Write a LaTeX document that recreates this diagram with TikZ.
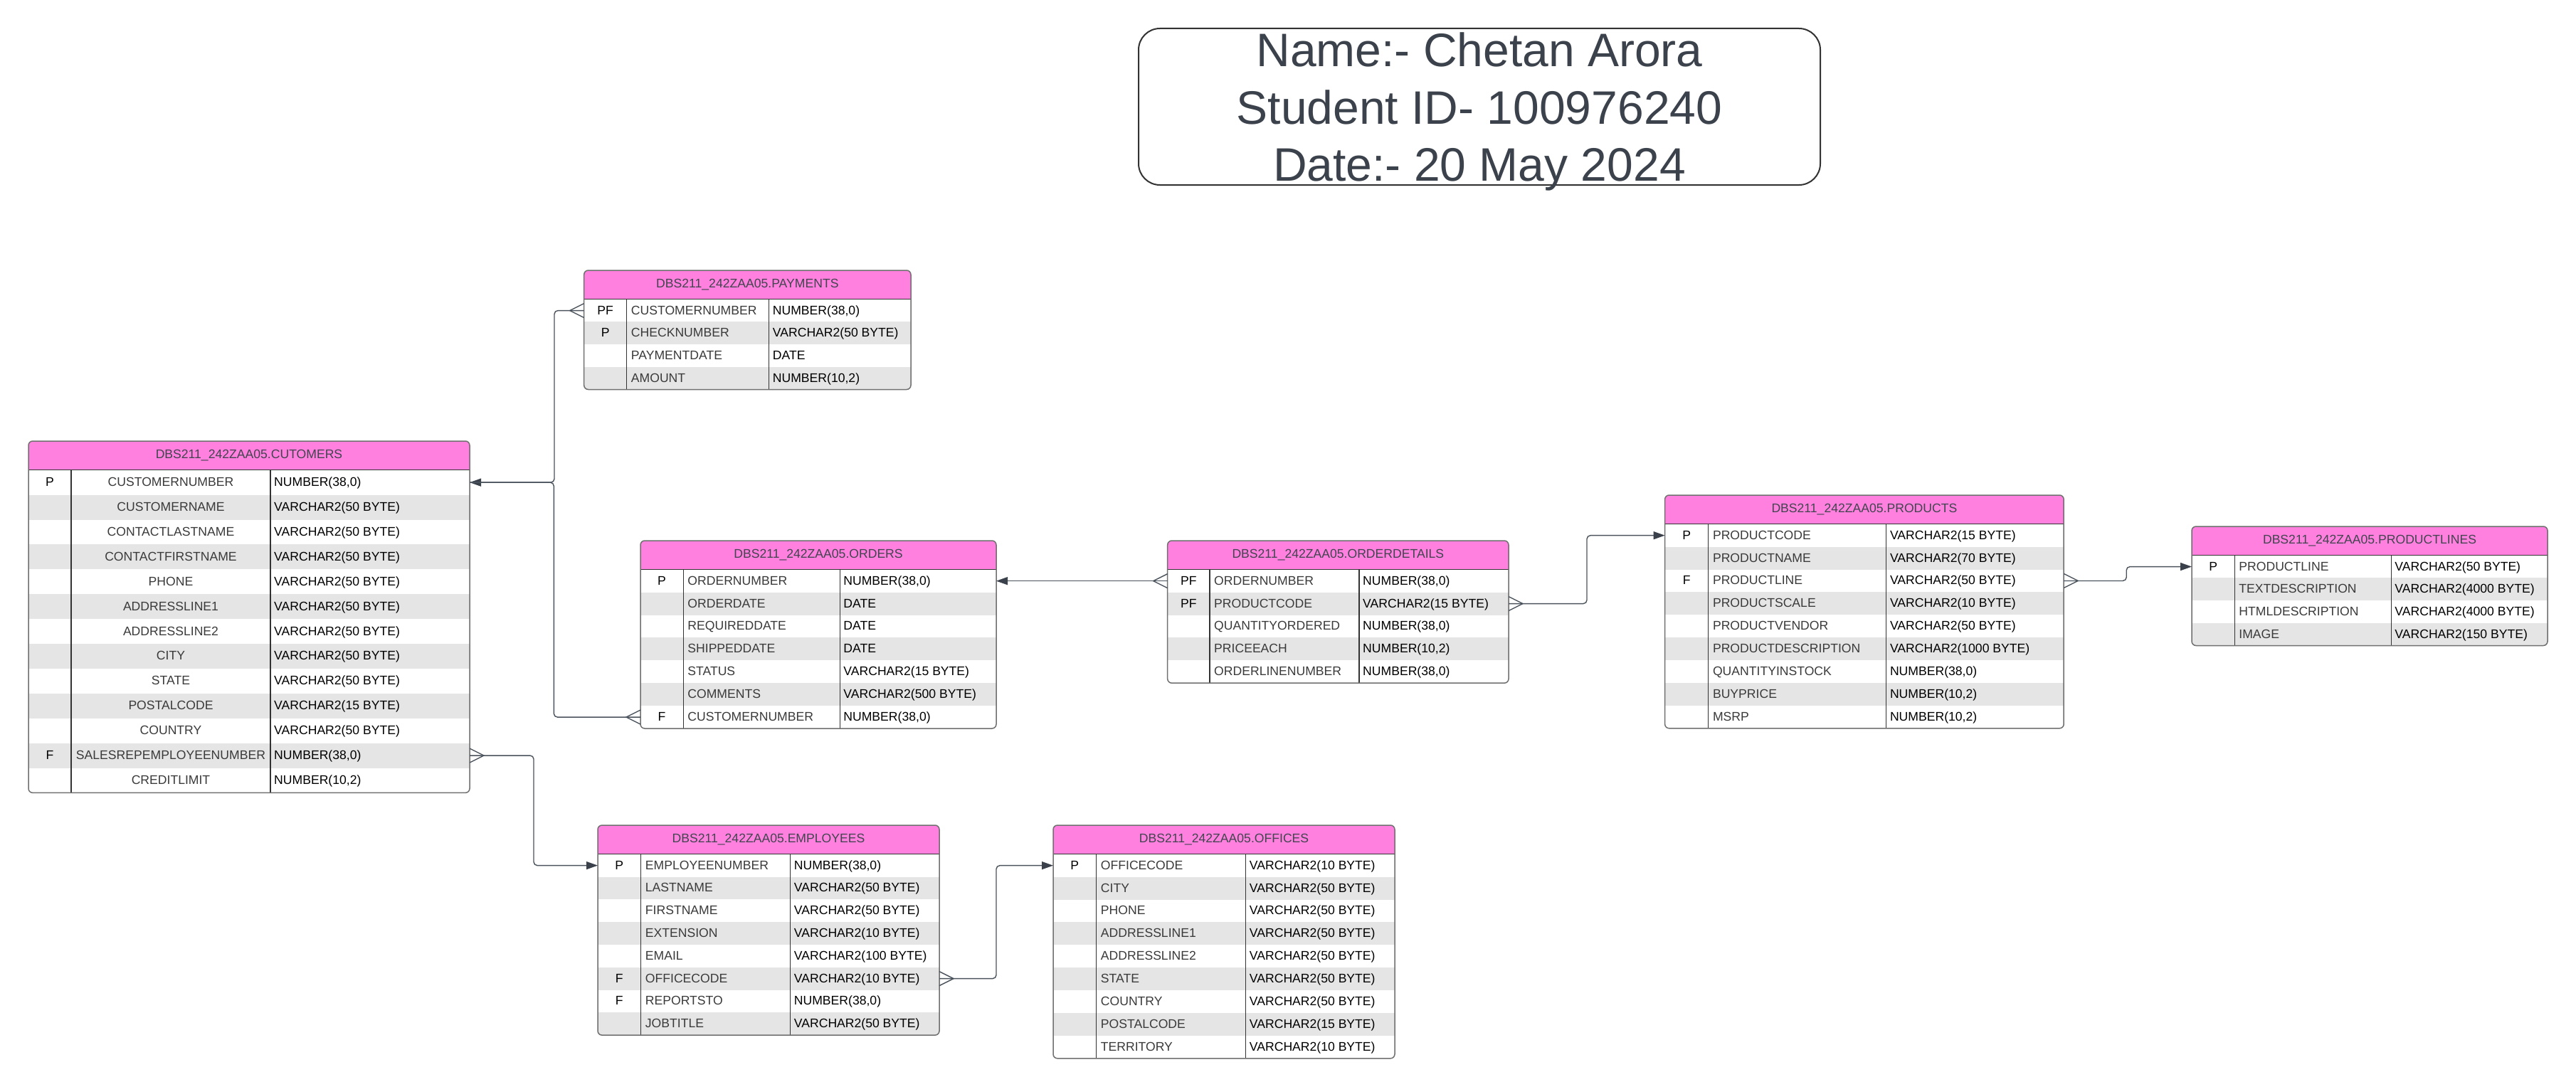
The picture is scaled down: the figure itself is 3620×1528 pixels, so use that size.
\documentclass[tikz,border=0pt]{standalone}
\usepackage{fontspec}
\setmainfont{Liberation Sans}
\usetikzlibrary{arrows.meta,calc}
\definecolor{hdrpink}{HTML}{FF80DF}
\definecolor{rowgray}{HTML}{E5E5E5}
\definecolor{bordergray}{HTML}{707070}
\definecolor{divdark}{HTML}{333333}
\definecolor{linegray}{HTML}{4A525C}
\definecolor{arrowdark}{HTML}{3A414B}
\definecolor{titletext}{HTML}{3B424C}
\definecolor{hdrtext}{HTML}{40454F}
\definecolor{nametext}{HTML}{3A3A3A}
\tikzset{
  erfont/.style={font=\fontsize{17.6}{21}\selectfont},
  hdrtxt/.style={erfont, text=hdrtext, inner sep=0pt},
  keytxt/.style={erfont, text=black, anchor=base, inner sep=0pt},
  nametxt/.style={erfont, text=nametext, inner sep=0pt},
  typetxt/.style={erfont, text=black, anchor=base west, inner sep=0pt},
  rowbox/.style={draw=none, inner sep=0pt, outer sep=0pt},
  conn/.style={draw=linegray, line width=1.4pt},
  tipend/.style={-{Triangle[length=16pt,width=11pt,color=arrowdark]}},
  titlebox/.style={draw=divdark, line width=2pt, rounded corners=30pt, inner sep=0pt},
  titletxt/.style={font=\fontsize{66}{80.5}\selectfont, text=titletext, align=center, inner sep=0pt}
}
\newif\ifercenter
\newcommand{\ertable}[9]{%
  \pgfmathsetmacro{\erxa}{#2}%
  \pgfmathsetmacro{\erxb}{#2+#4}%
  \pgfmathsetmacro{\erxc}{#2+#4+#5}%
  \pgfmathsetmacro{\erxd}{#2+#4+#5+#6}%
  \pgfmathsetmacro{\erya}{#3}%
  \pgfmathsetmacro{\eryh}{#3+40.7}%
  \foreach [count=\ri] \ek/\en/\et in {#9} {\xdef\ernrows{\ri}}%
  \pgfmathsetmacro{\eryd}{\eryh+\ernrows*#7}%
  \pgfmathsetmacro{\erwd}{\erxd-\erxa}%
  \begin{scope}
    \clip[rounded corners=6pt] (\erxa,\erya) rectangle (\erxd,\eryd);
    \fill[hdrpink] (\erxa,\erya) rectangle (\erxd,\eryh);
    \foreach [count=\ri] \ek/\en/\et in {#9} {%
      \ifodd\ri\relax\else
        \fill[rowgray] (\erxa,{\eryh+(\ri-1)*#7}) rectangle (\erxd,{\eryh+\ri*#7});
      \fi}%
  \end{scope}
  \node[hdrtxt] (#1) at ({(\erxa+\erxd)/2},{(\erya+\eryh)/2}) {#8};
  \foreach [count=\ri] \ek/\en/\et in {#9} {%
    \pgfmathsetmacro{\ryc}{\eryh+(\ri-0.5)*#7}%
    \node[rowbox, minimum width=\erwd pt, minimum height=#7pt] (#1-r\ri) at ({(\erxa+\erxd)/2},\ryc) {};
    \node[keytxt] (#1-k\ri) at ({(\erxa+\erxb)/2},{\ryc+5.5}) {\ek};
    \ifercenter
      \node[nametxt, anchor=base] (#1-n\ri) at ({(\erxb+\erxc)/2},{\ryc+5.5}) {\en};
    \else
      \node[nametxt, anchor=base west] (#1-n\ri) at ({\erxb+6},{\ryc+5.5}) {\en};
    \fi
    \node[typetxt] (#1-t\ri) at ({\erxc+5},{\ryc+5.5}) {\et};
  }%
  \draw[divdark, line width=1.3pt] (\erxa,\eryh) -- (\erxd,\eryh);
  \draw[divdark, line width=1.3pt] (\erxb,\eryh) -- (\erxb,\eryd);
  \draw[divdark, line width=1.3pt] (\erxc,\eryh) -- (\erxc,\eryd);
  \draw[bordergray, line width=1.5pt, rounded corners=6pt] (\erxa,\erya) rectangle (\erxd,\eryd);
}
\newcommand{\crowfoot}[2]{%
  \draw[conn] ($(#1)+(0,-10)$) -- ($(#1)+(#2*20,0)$) -- ($(#1)+(0,10)$);}
\begin{document}
\begin{tikzpicture}[x=1pt,y=-1pt]
\fill[white] (0,0) rectangle (3620,1528);
\useasboundingbox (0,0) rectangle (3620,1528);

% title
\node[titlebox, minimum width=958pt, minimum height=220pt] (titlebox) at (2079,150) {};
\node[titletxt] (title) at (2079,157) {Name:- Chetan Arora\\Student ID- 100976240\\Date:- 20 May 2024};

% CUSTOMERS
\ercentertrue
\ertable{cust}{40}{620}{60}{280}{280}{34.9}{DBS211\_242ZAA05.CUTOMERS}{%
P/CUSTOMERNUMBER/{NUMBER(38,0)},
{}/CUSTOMERNAME/{VARCHAR2(50 BYTE)},
{}/CONTACTLASTNAME/{VARCHAR2(50 BYTE)},
{}/CONTACTFIRSTNAME/{VARCHAR2(50 BYTE)},
{}/PHONE/{VARCHAR2(50 BYTE)},
{}/ADDRESSLINE1/{VARCHAR2(50 BYTE)},
{}/ADDRESSLINE2/{VARCHAR2(50 BYTE)},
{}/CITY/{VARCHAR2(50 BYTE)},
{}/STATE/{VARCHAR2(50 BYTE)},
{}/POSTALCODE/{VARCHAR2(15 BYTE)},
{}/COUNTRY/{VARCHAR2(50 BYTE)},
F/SALESREPEMPLOYEENUMBER/{NUMBER(38,0)},
{}/CREDITLIMIT/{NUMBER(10,2)}}
\ercenterfalse

% PAYMENTS
\ertable{pay}{820.7}{380}{60}{200}{199.3}{31.7}{DBS211\_242ZAA05.PAYMENTS}{%
PF/CUSTOMERNUMBER/{NUMBER(38,0)},
P/CHECKNUMBER/{VARCHAR2(50 BYTE)},
{}/PAYMENTDATE/{DATE},
{}/AMOUNT/{NUMBER(10,2)}}

% ORDERS
\ertable{ord}{900}{760}{60.2}{220}{219.8}{31.9}{DBS211\_242ZAA05.ORDERS}{%
P/ORDERNUMBER/{NUMBER(38,0)},
{}/ORDERDATE/{DATE},
{}/REQUIREDDATE/{DATE},
{}/SHIPPEDDATE/{DATE},
{}/STATUS/{VARCHAR2(15 BYTE)},
{}/COMMENTS/{VARCHAR2(500 BYTE)},
F/CUSTOMERNUMBER/{NUMBER(38,0)}}

% ORDERDETAILS
\ertable{od}{1640.7}{760}{59.3}{210}{210}{31.9}{DBS211\_242ZAA05.ORDERDETAILS}{%
PF/ORDERNUMBER/{NUMBER(38,0)},
PF/PRODUCTCODE/{VARCHAR2(15 BYTE)},
{}/QUANTITYORDERED/{NUMBER(38,0)},
{}/PRICEEACH/{NUMBER(10,2)},
{}/ORDERLINENUMBER/{NUMBER(38,0)}}

% PRODUCTS
\ertable{prod}{2339.6}{696}{61.2}{250}{249.4}{31.9}{DBS211\_242ZAA05.PRODUCTS}{%
P/PRODUCTCODE/{VARCHAR2(15 BYTE)},
{}/PRODUCTNAME/{VARCHAR2(70 BYTE)},
F/PRODUCTLINE/{VARCHAR2(50 BYTE)},
{}/PRODUCTSCALE/{VARCHAR2(10 BYTE)},
{}/PRODUCTVENDOR/{VARCHAR2(50 BYTE)},
{}/PRODUCTDESCRIPTION/{VARCHAR2(1000 BYTE)},
{}/QUANTITYINSTOCK/{NUMBER(38,0)},
{}/BUYPRICE/{NUMBER(10,2)},
{}/MSRP/{NUMBER(10,2)}}

% PRODUCTLINES
\ertable{pl}{3080}{740}{60.2}{220}{219.8}{31.7}{DBS211\_242ZAA05.PRODUCTLINES}{%
P/PRODUCTLINE/{VARCHAR2(50 BYTE)},
{}/TEXTDESCRIPTION/{VARCHAR2(4000 BYTE)},
{}/HTMLDESCRIPTION/{VARCHAR2(4000 BYTE)},
{}/IMAGE/{VARCHAR2(150 BYTE)}}

% EMPLOYEES
\ertable{emp}{840}{1160}{60.7}{210}{209.3}{31.8}{DBS211\_242ZAA05.EMPLOYEES}{%
P/EMPLOYEENUMBER/{NUMBER(38,0)},
{}/LASTNAME/{VARCHAR2(50 BYTE)},
{}/FIRSTNAME/{VARCHAR2(50 BYTE)},
{}/EXTENSION/{VARCHAR2(10 BYTE)},
{}/EMAIL/{VARCHAR2(100 BYTE)},
F/OFFICECODE/{VARCHAR2(10 BYTE)},
F/REPORTSTO/{NUMBER(38,0)},
{}/JOBTITLE/{VARCHAR2(50 BYTE)}}

% OFFICES
\ertable{off}{1480}{1160}{60.7}{210}{209.3}{31.9}{DBS211\_242ZAA05.OFFICES}{%
P/OFFICECODE/{VARCHAR2(10 BYTE)},
{}/CITY/{VARCHAR2(50 BYTE)},
{}/PHONE/{VARCHAR2(50 BYTE)},
{}/ADDRESSLINE1/{VARCHAR2(50 BYTE)},
{}/ADDRESSLINE2/{VARCHAR2(50 BYTE)},
{}/STATE/{VARCHAR2(50 BYTE)},
{}/COUNTRY/{VARCHAR2(50 BYTE)},
{}/POSTALCODE/{VARCHAR2(15 BYTE)},
{}/TERRITORY/{VARCHAR2(10 BYTE)}}

% connectors
\draw[conn, rounded corners=5pt, tipend] (pay-r1.west) -- ++(-41.7,0) |- (cust-r1.east);
\draw[conn, rounded corners=5pt] (ord-r7.west) -- ++(-121.7,0) |- (cust-r1.east);
\crowfoot{pay-r1.west}{-1}
\crowfoot{ord-r7.west}{-1}

\draw[conn, rounded corners=5pt, tipend] (cust-r12.east) -- ++(90,0) |- (emp-r1.west);
\crowfoot{cust-r12.east}{1}

\draw[conn, tipend] (od-r1.west) -- (ord-r1.east);
\crowfoot{od-r1.west}{-1}

\draw[conn, rounded corners=5pt, tipend] (od-r2.east) -- ++(110,0) |- (prod-r1.west);
\crowfoot{od-r2.east}{1}

\draw[conn, rounded corners=5pt, tipend] (prod-r3.east) -- ++(88,0) |- (pl-r1.west);
\crowfoot{prod-r3.east}{1}

\draw[conn, rounded corners=5pt, tipend] (emp-r6.east) -- ++(80,0) |- (off-r1.west);
\crowfoot{emp-r6.east}{1}
\end{tikzpicture}
\end{document}
